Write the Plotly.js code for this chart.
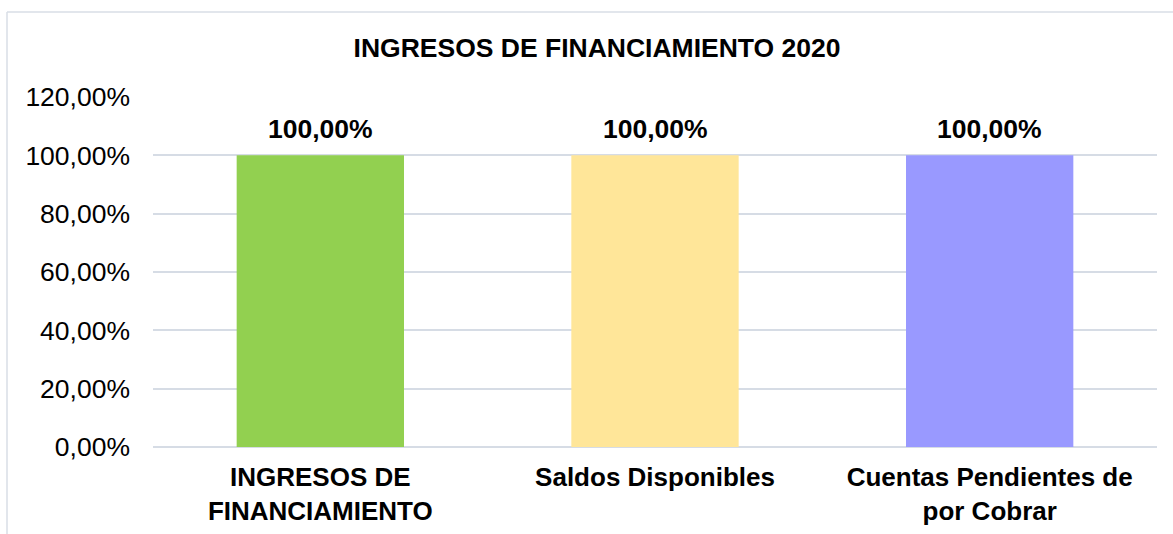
<!DOCTYPE html>
<html>
<head>
<meta charset="utf-8">
<script src="https://cdn.plot.ly/plotly-3.0.1.min.js"></script>
<style>html,body{margin:0;padding:0;background:#fff;}#chart{width:1173px;height:534px;}</style>
</head>
<body>
<div id="chart"></div>
<script>
const categories = ["INGRESOS DE<br>FINANCIAMIENTO", "Saldos Disponibles", "Cuentas Pendientes de<br>por Cobrar"];
const values = [1.0, 1.0, 1.0];
const barColors = ["#92D050", "#FFE699", "#9999FF"];
const valueLabels = ["100,00%", "100,00%", "100,00%"];
const chartTitle = "INGRESOS DE FINANCIAMIENTO 2020";

const font = "Liberation Sans, Arial, sans-serif";

const trace = {
  type: "bar",
  x: categories,
  y: values,
  marker: {color: barColors},
  hoverinfo: "none"
};

const annotations = categories.map((c, i) => ({
  x: c, y: values[i], xref: "x", yref: "y",
  text: "<b>" + valueLabels[i] + "</b>",
  showarrow: false, yanchor: "bottom", yshift: 9,
  font: {family: font, size: 26.5, color: "#000"}
}));

const x0 = (7 - 153) / 1004, x1 = (1173 - 153) / 1004;
const yTop = (447 - 12) / 350, yBot = (447 - 540) / 350;

const layout = {
  width: 1173, height: 534,
  margin: {l: 153, r: 16, t: 97, b: 87},
  paper_bgcolor: "#fff", plot_bgcolor: "#fff",
  separators: ",.",
  bargap: 0.5,
  showlegend: false,
  title: {text: "<b>" + chartTitle + "</b>", x: 597/1173, xref: "container", xanchor: "center", y: 1 - 48/534, yanchor: "middle", yref: "container",
          font: {family: font, size: 26.5, color: "#000"}},
  xaxis: {
    type: "category",
    tickfont: {family: font, size: 26, color: "#000", weight: "bold"},
    showline: false, showgrid: false, zeroline: false,
    ticks: "", ticklabelstandoff: 12
  },
  yaxis: {
    range: [0, 1.2], dtick: 0.2, tick0: 0,
    tickformat: ".2%",
    tickfont: {family: font, size: 26.5, color: "#000"},
    showgrid: true, gridcolor: "#D6DCE5", gridwidth: 2,
    zeroline: true, zerolinecolor: "#D6DCE5", zerolinewidth: 2,
    showline: false, ticks: "", ticklabelstandoff: 22
  },
  annotations: annotations,
  shapes: [
    {type: "line", xref: "paper", yref: "paper", x0: x0, x1: x1, y0: yTop, y1: yTop, line: {color: "#D9DEE6", width: 1.5}},
    {type: "line", xref: "paper", yref: "paper", x0: x0, x1: x0, y0: yTop, y1: yBot, line: {color: "#D9DEE6", width: 1.5}}
  ]
};

Plotly.newPlot("chart", [trace], layout, {staticPlot: true, displayModeBar: false});
</script>
</body>
</html>
